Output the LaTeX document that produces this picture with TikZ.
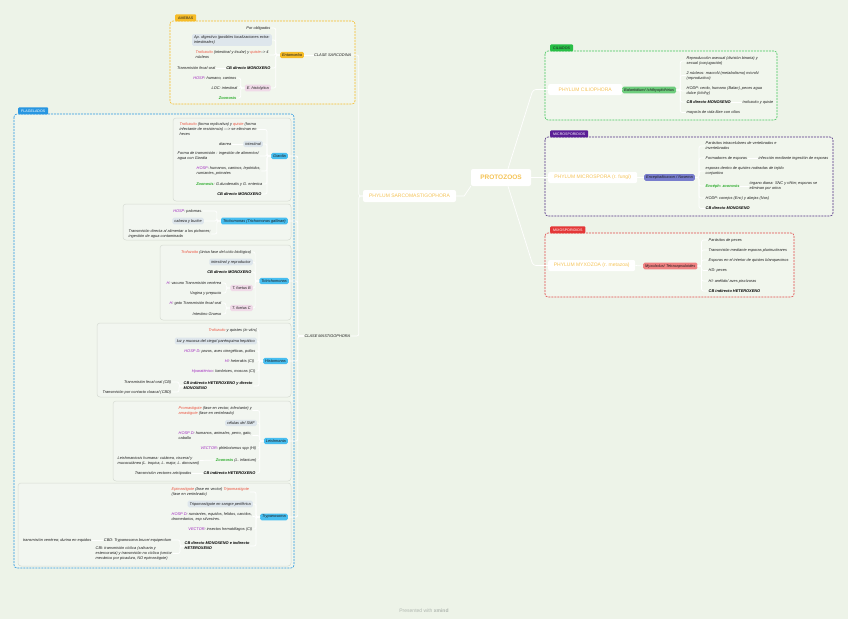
\documentclass[tikz,border=0pt]{standalone}
\usepackage{fontspec}
\setmainfont{Liberation Sans}
\usetikzlibrary{calc}
\definecolor{bgc}{RGB}{237,243,232}
\definecolor{regf}{RGB}{241,246,237}
\definecolor{grpf}{RGB}{242,246,240}
\definecolor{grpb}{RGB}{214,219,211}
\definecolor{txtc}{RGB}{30,30,30}
\definecolor{redc}{RGB}{235,80,60}
\definecolor{purc}{RGB}{160,40,190}
\definecolor{grnc}{RGB}{40,170,40}
\definecolor{pblue}{RGB}{72,190,240}
\definecolor{lboxc}{RGB}{222,230,236}
\definecolor{pinkc}{RGB}{240,218,232}
\definecolor{amc}{RGB}{246,188,40}
\definecolor{flc}{RGB}{40,150,225}
\definecolor{cilc}{RGB}{70,200,95}
\definecolor{ciltag}{RGB}{40,190,70}
\definecolor{cilpill}{RGB}{110,205,125}
\definecolor{micc}{RGB}{80,45,130}
\definecolor{mictag}{RGB}{90,30,150}
\definecolor{micpill}{RGB}{120,125,205}
\definecolor{myxc}{RGB}{225,75,75}
\definecolor{myxtag}{RGB}{228,55,55}
\definecolor{myxpill}{RGB}{240,130,130}
\definecolor{phyc}{RGB}{245,195,85}
\definecolor{xmc}{RGB}{175,182,175}
\newcommand\mmtxt{\fontsize{3.9}{5}\selectfont\itshape}
\newcommand\mmtag{\fontsize{3.6}{4}\selectfont}
\newcommand\mmphy{\fontsize{5}{6}\selectfont}
\newcommand\mmbig{\fontsize{6.5}{8}\selectfont\bfseries}
\newcommand\mmR[1]{\textcolor{redc}{#1}}
\newcommand\mmP[1]{\textcolor{purc}{#1}}
\newcommand\mmG[1]{\textcolor{grnc}{#1}}
\newcommand\mmLt[2]{\draw[conn] (#1.west) -- ++(-4,0) |- (#2.east);}
\newcommand\mmRt[2]{\draw[conn] (#1.east) -- ++(4,0) |- (#2.west);}
\tikzset{
 conn/.style={draw=white, line width=0.7pt, rounded corners=2pt},
 t/.style={font=\mmtxt, text=txtc, inner sep=0.5pt, align=left},
 tb/.style={t, font=\mmtxt\bfseries, text=black},
 pill/.style={rounded corners=1.5pt, inner xsep=2pt, inner ysep=1.6pt, font=\mmtxt, text=txtc, align=left},
 bluepill/.style={pill, fill=pblue},
 lbox/.style={pill, fill=lboxc},
 pinkpill/.style={pill, fill=pinkc},
 grp/.style={draw=grpb, fill=grpf, rounded corners=3pt, line width=0.5pt},
 region/.style={dash pattern=on 2pt off 1pt, line width=0.6pt, rounded corners=3pt, fill=regf},
 tagbox/.style={font=\mmtag, inner xsep=3pt, inner ysep=0pt, minimum height=7pt, rounded corners=1pt, anchor=south west},
 phy/.style={fill=white, rounded corners=2pt, font=\mmphy, text=phyc, inner sep=0pt, minimum height=11pt},
}
\begin{document}
\begin{tikzpicture}[x=1pt,y=-1pt]
\useasboundingbox[fill=bgc] (0,0) rectangle (848,619);

% regions
\draw[region, draw=amc] (170,21) rectangle (355,104);
\node[tagbox, fill=amc, text=txtc] (tagam) at (175,21.5) {AMEBAS};
\draw[region, draw=flc] (14,114) rectangle (294,568);
\node[tagbox, fill=flc, text=white] (tagfl) at (18,114.5) {FLAGELADOS};
\draw[region, draw=cilc] (545,51) rectangle (777,120);
\node[tagbox, fill=ciltag, text=txtc] (tagci) at (550,51.5) {CILIADOS};
\draw[region, draw=micc] (545,137) rectangle (833,216);
\node[tagbox, fill=mictag, text=white] (tagmi) at (550,137.5) {MICROSPORIDIOS};
\draw[region, draw=myxc] (545,233) rectangle (794,297);
\node[tagbox, fill=myxtag, text=white] (tagmx) at (550,233.5) {MIXOSPORIDIOS};

% groups in flagelados
\draw[grp] (173,118) rectangle (291,201);
\draw[grp] (123,204) rectangle (291,240);
\draw[grp] (160,245) rectangle (291,320);
\draw[grp] (97,323) rectangle (291,397);
\draw[grp] (113,401) rectangle (291,481);
\draw[grp] (18,483) rectangle (291,566);

% center
\node[phy, font=\mmbig, minimum width=60pt, minimum height=17pt] (proto) at (501,177.5) {PROTOZOOS};
\node[phy, minimum width=93pt, minimum height=12pt] (sarco) at (409.5,196) {PHYLUM SARCOMASTIGOPHORA};
\node[phy, anchor=west, minimum width=74pt] (cil) at (548,89.5) {PHYLUM CILIOPHORA};
\node[phy, anchor=west, minimum width=89pt] (mic) at (548,177.5) {PHYLUM MICROSPORA (r. fungi)};
\node[phy, anchor=west, minimum width=87pt] (myx) at (548,265.5) {PHYLUM MYXOZOA (r. metazoa)};
\node[t, anchor=east] (sarc) at (352,55) {CLASE SARCODINA};
\node[t, anchor=east] (mast) at (351,336) {CLASE MASTIGOPHORA};

\draw[conn, rounded corners=0] (sarco.east) -- ++(8,0) -- (proto.south west);
\draw[conn, rounded corners=3pt] ([xshift=7pt]proto.north) -- ([xshift=-15pt]cil.west) -- (cil.west);
\draw[conn] (proto.east) -- (mic.west);
\draw[conn, rounded corners=3pt] ([xshift=7pt]proto.south) -- ([xshift=-15pt]myx.west) -- (myx.west);
\mmLt{sarco}{sarc}
\mmLt{sarco}{mast}

% AMEBAS
\node[pill, fill=amc] (ent) at (292,55) {Entamoeba};
\draw[conn] (sarc.west) -- (ent.east);
\node[t, anchor=east] (a1) at (271,28) {Por obligados};
\node[lbox, anchor=east] (a2) at (272,40) {Ap. digestivo (posibles localizaciones extra-\\intestinales)};
\node[t, anchor=west] (a3) at (195,55) {\mmR{Trofozoito} (intestinal y tisular) y \mmR{quiste}--> 4\\núcleos};
\node[tb, anchor=east] (a4) at (271,68) {CB directo MONOXENO};
\node[t, anchor=east] (a4b) at (216,68) {Transmisión fecal-oral};
\node[pinkpill, anchor=east] (ehis) at (271,88) {E. histolytica};
\node[t, anchor=east] (a5) at (237,78) {\mmP{HOSP}: humano, caninos};
\node[t, anchor=east] (a6) at (238,88) {LOC: intestinal};
\node[t, anchor=east] (a7) at (237,98) {\mmG{\bfseries Zoonosis}};
\mmLt{ent}{a1}\mmLt{ent}{a2}\mmLt{ent}{a3}\mmLt{ent}{a4}\mmLt{ent}{ehis}
\draw[conn] (a4.west) -- (a4b.east);
\mmLt{ehis}{a5}\mmLt{ehis}{a6}\mmLt{ehis}{a7}

% Giardia
\node[bluepill, anchor=east] (gia) at (288,156) {Giardia};
\node[t, anchor=west] (g1a) at (179,129.5) {\mmR{Trofozoito} (forma replicativa) y \mmR{quiste} (forma\\infectante de resistencia) ---> se eliminan en\\heces};
\node[lbox, anchor=east] (g1b) at (263,144) {intestinal};
\node[t, anchor=east] (g1c) at (232,144) {diarrea};
\node[t, anchor=west] (g1d) at (177,156) {Forma de transmisión : ingestión de alimentos/\\agua con Giardia};
\node[t, anchor=west] (g1e) at (196,171) {\mmP{HOSP}: humanos, caninos, lepóridos,\\rumiantes, primates};
\node[t, anchor=east] (g1f) at (263,184) {\mmG{\bfseries Zoonosis}: G.duodenalis y G. enterica};
\node[tb, anchor=east] (g1g) at (262,194) {CB directo MONOXENO};
\mmLt{gia}{g1a}\mmLt{gia}{g1b}\mmLt{gia}{g1d}\mmLt{gia}{g1e}\mmLt{gia}{g1f}\mmLt{gia}{g1g}
\draw[conn] (g1b.west) -- (g1c.east);

% Trichomonas
\node[bluepill, anchor=east] (tri) at (288,221) {Trichomonas (Trichomonas gallinae)};
\node[t, anchor=east] (t2a) at (203,211) {\mmP{HOSP}: palomas.};
\node[lbox, anchor=east] (t2b) at (204,221) {cabeza y buche};
\node[t, anchor=west] (t2c) at (128,234) {Transmisión directa al alimentar a los pichones;\\ingestión de agua contaminada};
\mmLt{tri}{t2a}\mmLt{tri}{t2b}\mmLt{tri}{t2c}

% Tritrichomonas
\node[bluepill, anchor=east] (ttr) at (289,281) {Tritrichomonas};
\node[t, anchor=east] (t3a) at (252,252) {\mmR{Trofozoito} (única fase del ciclo biológico)};
\node[lbox, anchor=east] (t3b) at (253,262) {intestinal y reproductor};
\node[tb, anchor=east] (t3c) at (252,272) {CB directo MONOXENO};
\node[pinkpill, anchor=east] (tfb) at (253,288) {T. foetus B};
\node[pinkpill, anchor=east] (tfc) at (253,308) {T. foetus C};
\node[t, anchor=east] (t3d) at (222,283) {\mmP{H}: vacuno Transmisión venérea};
\node[t, anchor=east] (t3e) at (222,293) {Vagina y prepucio};
\node[t, anchor=east] (t3f) at (222,303) {\mmP{H}: gato Transmisión fecal-oral};
\node[t, anchor=east] (t3g) at (222,314) {Intestino Grueso};
\mmLt{ttr}{t3a}\mmLt{ttr}{t3b}\mmLt{ttr}{t3c}\mmLt{ttr}{tfb}\mmLt{ttr}{tfc}
\mmLt{tfb}{t3d}\mmLt{tfb}{t3e}\mmLt{tfc}{t3f}\mmLt{tfc}{t3g}

% Histomonas
\node[bluepill, anchor=east] (his) at (288,361) {Histomonas};
\node[t, anchor=east] (h1) at (258,330) {\mmR{Trofozoito} y quistes (in vitro)};
\node[lbox, anchor=east] (h2) at (257,341) {luz y mucosa del ciego/ parénquima hepático};
\node[t, anchor=east] (h3) at (256,351) {\mmP{HOSP D}: pavos, aves cinegéticas, pollos};
\node[t, anchor=east] (h4) at (255,361) {\mmP{HI}: heterakis (CI)};
\node[t, anchor=east] (h5) at (256,371) {\mmP{Hparaténico}: lombrices, moscas (CI)};
\node[tb, anchor=west] (h6) at (183,386) {CB indirecto HETEROXENO y directo\\MONOXENO};
\node[t, anchor=east] (h7) at (172,382) {Transmisión fecal-oral (CB)};
\node[t, anchor=east] (h8) at (172,392) {Transmisión por contacto cloacal (CBD)};
\mmLt{his}{h1}\mmLt{his}{h2}\mmLt{his}{h3}\mmLt{his}{h4}\mmLt{his}{h5}\mmLt{his}{h6}
\mmLt{h6}{h7}\mmLt{h6}{h8}

% Leishmania
\node[bluepill, anchor=east] (lei) at (288,441) {Leishmania};
\node[t, anchor=west] (l1) at (178,410.5) {\mmR{Promastigote} (fase en vector, infectante) y\\\mmR{amastigote} (fase en vertebrado)};
\node[lbox, anchor=east] (l2) at (257,423) {células del SMF};
\node[t, anchor=west] (l3) at (178,435.5) {\mmP{HOSP D}: humanos, animales, perro, gato,\\caballo};
\node[t, anchor=east] (l4) at (257,448) {\mmP{VECTOR}: phlebotomus spp (HI)};
\node[t, anchor=east] (l5) at (257,460) {\mmG{\bfseries Zoonosis} (L. infantum)};
\node[tb, anchor=east] (l6) at (256,473) {CB indirecto HETEROXENO};
\node[t, anchor=west] (l7) at (117,460.5) {Leishmaniosis humana: cutánea, visceral y\\mucocutánea (L. tropica, L. major, L. donovani)};
\node[t, anchor=east] (l8) at (192,473) {Transmisión vectores artrópodos};
\mmLt{lei}{l1}\mmLt{lei}{l2}\mmLt{lei}{l3}\mmLt{lei}{l4}\mmLt{lei}{l5}\mmLt{lei}{l6}
\draw[conn] (l5.west) -- (l7.east);
\draw[conn] (l6.west) -- (l8.east);

% Trypanosoma
\node[bluepill, anchor=east] (try) at (288,517) {Trypanosoma};
\node[t, anchor=west] (y1) at (171,492) {\mmR{Epimastigote} (fase en vector) \mmR{Tripomastigote}\\(fase en vertebrado)};
\node[lbox, anchor=east] (y2) at (253,504) {Tripomastigote en sangre periférica};
\node[t, anchor=west] (y3) at (171,516.5) {\mmP{HOSP D}: rumiantes, equidos, felidos, canidos,\\dromedarios, esp silvestres.};
\node[t, anchor=east] (y4) at (253,529) {\mmP{VECTOR}: insectos hematófagos (CI)};
\node[tb, anchor=west] (y5) at (184,546) {CB directo MONOXENO e indirecto\\HETEROXENO};
\node[t, anchor=east] (y6) at (172,540) {CBD: Trypanosoma brucei equiperdum};
\node[t, anchor=west] (y7) at (95,553.5) {CBI: transmisión cíclica (salivaria y\\estercoraria) y transmisión no cíclica (vector\\mecánico por picadura, NO epimastigote)};
\node[t, anchor=east] (y8) at (92,540) {transmisión venérea; durina en equidos};
\mmLt{try}{y1}\mmLt{try}{y2}\mmLt{try}{y3}\mmLt{try}{y4}\mmLt{try}{y5}
\mmLt{y5}{y6}\mmLt{y5}{y7}
\draw[conn] (y6.west) -- (y8.east);

% mastigophora to flagelados
\draw[conn] (mast.west) -- ++(-6,0) |- (gia.east);
\draw[conn] (mast.west) -- ++(-6,0) |- (tri.east);
\draw[conn] (mast.west) -- ++(-6,0) |- (ttr.east);
\draw[conn] (mast.west) -- ++(-6,0) |- (his.east);
\draw[conn] (mast.west) -- ++(-6,0) |- (lei.east);
\draw[conn] (mast.west) -- ++(-6,0) |- (try.east);

% CILIADOS
\node[pill, fill=cilpill, anchor=west] (bal) at (622,90) {Balantidium/ Ichthyophthirius};
\draw[conn] (cil.east) -- (bal.west);
\node[t, anchor=west] (c1) at (686,61) {Reproducción asexual (división binaria) y\\sexual (conjugación)};
\node[t, anchor=west] (c2) at (686,75.5) {2 núcleos: macroN (metabolismo) microN\\(reproductivo)};
\node[t, anchor=west] (c3) at (686,91) {HODP: cerdo, humano (Balan), peces agua\\dulce (Ichthy)};
\node[tb, anchor=west] (c4) at (686,102) {CB directo MONOXENO};
\node[t, anchor=west] (c4b) at (742,102) {trofozoito y quiste};
\node[t, anchor=west] (c5) at (686,112.5) {mayoría de vida libre con cilios};
\mmRt{bal}{c1}\mmRt{bal}{c2}\mmRt{bal}{c3}\mmRt{bal}{c4}\mmRt{bal}{c5}
\draw[conn] (c4.east) -- (c4b.west);

% MICROSPORIDIOS
\node[pill, fill=micpill, anchor=west] (enc) at (644,177.5) {Encephalitozoon / Nosema};
\draw[conn] (mic.east) -- (enc.west);
\node[t, anchor=west] (m1) at (705,146) {Parásitos intracelulares de vertebrados e\\invertebrados};
\node[t, anchor=west] (m2) at (705,158) {Formadores de esporas};
\node[t, anchor=west] (m2b) at (758,158) {infección mediante ingestión de esporas};
\node[t, anchor=west] (m3) at (705,171) {esporas dentro de quistes rodeadas de tejido\\conjuntivo};
\node[t, anchor=west, text=grnc] (m4) at (705,186) {\bfseries Encéph: zoonosis};
\node[t, anchor=west] (m4b) at (749,186) {órgano diana: SNC y riñón; esporas se\\eliminan por orina};
\node[t, anchor=west] (m5) at (705,198) {HODP: conejos (Enc) y abejas (Nos)};
\node[tb, anchor=west] (m6) at (705,208.5) {CB directo MONOXENO};
\mmRt{enc}{m1}\mmRt{enc}{m2}\mmRt{enc}{m3}\mmRt{enc}{m4}\mmRt{enc}{m5}\mmRt{enc}{m6}
\draw[conn] (m2.east) -- (m2b.west);
\draw[conn] (m4.east) -- (m4b.west);

% MIXOSPORIDIOS
\node[pill, fill=myxpill, anchor=west] (mxb) at (643,266) {Myxobolus/ Tetracapsuloides};
\draw[conn] (myx.east) -- (mxb.west);
\node[t, anchor=west] (x1) at (708,240) {Parásitos de peces};
\node[t, anchor=west] (x2) at (708,250) {Transmisión mediante esporas plurinucleares};
\node[t, anchor=west] (x3) at (708,260) {Esporas en el interior de quistes blanquecinos};
\node[t, anchor=west] (x4) at (708,270.5) {HD: peces};
\node[t, anchor=west] (x5) at (708,281) {HI: anélido/ aves piscívoras};
\node[tb, anchor=west] (x6) at (708,291) {CB indirecto HETEROXENO};
\mmRt{mxb}{x1}\mmRt{mxb}{x2}\mmRt{mxb}{x3}\mmRt{mxb}{x4}\mmRt{mxb}{x5}\mmRt{mxb}{x6}

% footer
\node[font=\fontsize{5}{6}\selectfont, text=xmc] (foot) at (424,611) {Presented with \textbf{xmind}};
\end{tikzpicture}
\end{document}
